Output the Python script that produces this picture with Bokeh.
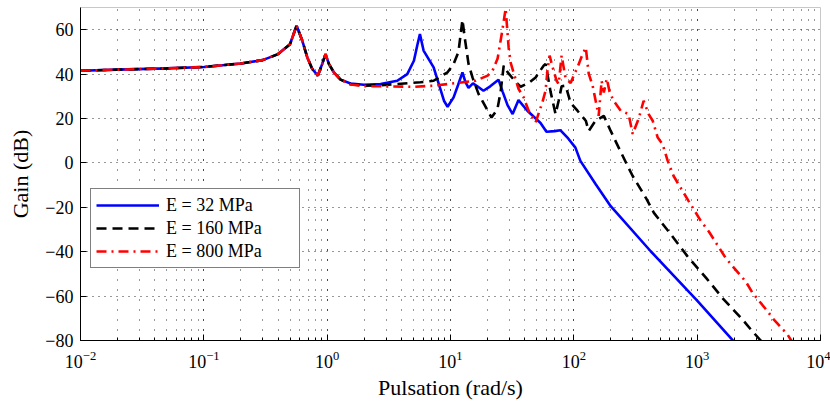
from bokeh.plotting import figure
from bokeh.models import Range1d, FixedTicker, Legend, LegendItem
from bokeh.embed import file_html
from bokeh.resources import INLINE

# ---- data ----
freq_32 = [0.01, 0.02, 0.05, 0.1, 0.2, 0.3, 0.4, 0.5, 0.565, 0.628, 0.69, 0.757, 0.84, 0.912,
           0.97, 1.032, 1.133, 1.284, 1.548, 1.985, 2.71, 3.70, 4.46, 5.05, 5.38, 5.65, 6.05,
           7.3, 8.85, 9.47, 10.6, 11.5, 12.5, 13.2, 14.0, 15.2, 16.5, 18.5, 21.0, 24.5, 26.5,
           29.0, 31.9, 35.6, 42.0, 53.7, 60.0, 70.0, 78.0, 90.0, 103.0, 113.0, 150.0, 199.0,
           420.0, 1000.0, 1930.0, 2100.0]
gain_32 = [41.5, 42.0, 42.6, 43.2, 44.8, 46.3, 49.0, 53.5, 61.8, 55.1, 47.5, 42.3, 39.3, 44.6,
           49.0, 44.6, 40.8, 37.5, 35.8, 35.2, 35.5, 37.0, 40.0, 46.0, 53.0, 58.0, 50.6,
           43.0, 28.0, 25.3, 29.5, 35.0, 40.8, 36.5, 33.8, 35.8, 34.5, 32.5, 34.5, 37.5, 32.0,
           26.0, 22.0, 28.3, 23.5, 18.0, 14.0, 14.3, 14.7, 11.0, 6.9, 0.9, -9.5, -19.5,
           -39.8, -62.0, -79.7, -82.0]

freq_160 = [0.01, 0.02, 0.05, 0.1, 0.2, 0.3, 0.4, 0.5, 0.565, 0.628, 0.69, 0.757, 0.84, 0.912,
            0.97, 1.032, 1.133, 1.284, 1.548, 1.985, 2.71, 5.71, 7.29, 9.46, 10.6, 11.6, 12.5,
            13.0, 14.0, 15.1, 16.9, 18.5, 21.5, 24.0, 25.5, 27.0, 29.1, 33.7, 37.0, 43.0,
            49.0, 56.9, 59.0, 64.8, 71.1, 75.3, 79.6, 85.8, 94.2, 107.0, 125.0, 132.0, 150.0,
            175.0, 199.0, 231.0, 273.0, 300.0, 348.0, 389.0, 446.0, 610.0, 832.0, 1210.0,
            1640.0, 2330.0, 2720.0, 3275.0, 3590.0]
gain_160 = [41.5, 42.0, 42.6, 43.2, 44.8, 46.3, 49.0, 53.5, 61.8, 55.1, 47.5, 42.3, 39.3, 44.6,
            49.0, 44.6, 40.8, 37.5, 35.5, 34.8, 35.0, 36.3, 37.0, 40.8, 44.6, 50.0, 64.5,
            57.0, 44.6, 38.4, 31.0, 27.0, 20.4, 24.2, 32.0, 43.8, 40.8, 36.5, 34.3, 36.0,
            38.5, 43.8, 44.6, 32.0, 22.0, 28.0, 34.5, 34.8, 27.0, 23.5, 19.0, 14.4, 19.0,
            21.2, 14.4, 6.9, -1.4, -5.9, -11.8, -16.3, -22.5, -32.1, -42.0, -52.5,
            -61.5, -70.5, -75.0, -80.0, -82.0]

freq_800 = [0.01, 0.02, 0.05, 0.1, 0.2, 0.3, 0.4, 0.5, 0.565, 0.628, 0.69, 0.757, 0.84, 0.912,
            0.97, 1.032, 1.133, 1.284, 1.548, 1.985, 2.71, 5.05, 7.29, 9.46, 16.0, 20.0, 21.9,
            24.1, 26.3, 28.0, 29.6, 30.7, 32.5, 35.6, 39.2, 43.0, 49.0, 55.5, 59.0, 61.2, 63.6,
            67.3, 72.5, 75.3, 79.6, 85.8, 94.2, 101.0, 107.0, 116.0, 125.0, 132.0, 142.0,
            159.0, 168.0, 175.0, 185.0, 195.0, 210.0, 240.0, 278.0, 300.0, 336.0, 368.0,
            404.0, 436.0, 479.0, 525.0, 577.0, 644.0, 762.0, 853.0, 1067.0, 1239.0, 1702.0,
            1940.0, 2473.0, 2818.0, 3730.0, 4170.0, 5420.0, 5730.0, 6290.0]
gain_800 = [41.5, 42.0, 42.6, 43.2, 44.8, 46.3, 49.0, 53.5, 61.8, 55.1, 47.5, 42.3, 39.3, 44.6,
            49.0, 44.6, 40.8, 37.5, 35.3, 34.6, 34.5, 34.3, 34.8, 35.5, 37.0, 39.3, 41.5,
            47.0, 59.6, 69.5, 52.0, 45.3, 40.6, 33.4, 29.5, 23.5, 18.2, 27.2, 32.5, 42.0, 48.3,
            43.0, 37.0, 35.5, 48.3, 38.0, 36.0, 40.0, 43.0, 48.0, 52.0, 40.2, 34.8,
            21.2, 37.0, 31.7, 37.9, 32.0, 28.0, 23.5, 22.0, 13.0, 20.0, 28.0,
            22.0, 19.0, 11.4, 8.4, 0.9, -5.9, -12.7, -17.2, -26.0, -30.8, -42.8,
            -46.6, -53.4, -58.6, -66.9, -70.5, -77.4, -79.6, -82.0]

labels = ["E = 32 MPa", "E = 160 MPa", "E = 800 MPa"]
y_ticks = [-80, -60, -40, -20, 0, 20, 40, 60]

FONT = "Liberation Serif"

p = figure(width=830, height=402, x_axis_type="log",
           x_range=Range1d(1e-2, 1e4), y_range=Range1d(-80, 70),
           output_backend="svg", toolbar_location=None,
           min_border_left=80, min_border_right=10, min_border_top=7, min_border_bottom=10)
p.outline_line_color = "#c8c8c8"
p.outline_line_width = 1
p.background_fill_color = "white"
p.border_fill_color = "white"

r1 = p.line(freq_32, gain_32, line_color="#0000ff", line_width=2.6)
r2 = p.line(freq_160, gain_160, line_color="#000000", line_width=2.6, line_dash="10 6")
r3 = p.line(freq_800, gain_800, line_color="#ff0000", line_width=2.6, line_dash="10 5 2 5")

# axes
p.yaxis.ticker = FixedTicker(ticks=y_ticks)
for ax in (p.xaxis[0], p.yaxis[0]):
    ax.major_label_text_font = FONT
    ax.major_label_text_font_size = "18px"
    ax.major_label_text_color = "black"
    ax.axis_label_text_font = FONT
    ax.axis_label_text_font_size = "22px"
    ax.axis_label_text_font_style = "normal"
    ax.axis_label_text_color = "black"
    ax.axis_line_color = "black"
    ax.major_tick_in = 6
    ax.major_tick_out = 0
    ax.minor_tick_in = 3
    ax.minor_tick_out = 0
    ax.major_tick_line_color = "black"
p.yaxis.minor_tick_line_color = None
p.xaxis.axis_label = "Pulsation (rad/s)"
p.yaxis.axis_label = "Gain (dB)"
p.xaxis.major_label_standoff = 10
p.yaxis.major_label_standoff = 7
p.xaxis.axis_label_standoff = 4
p.yaxis.axis_label_standoff = 9

# grid
p.xgrid.grid_line_color = "#303030"
p.xgrid.grid_line_dash = "1 9"
p.xgrid.grid_line_width = 1
p.xgrid.minor_grid_line_color = "#303030"
p.xgrid.minor_grid_line_dash = "1 9"
p.xgrid.minor_grid_line_width = 1
p.ygrid.grid_line_color = "#303030"
p.ygrid.grid_line_dash = "1 5"
p.ygrid.grid_line_width = 1

legend = Legend(items=[LegendItem(label=labels[0], renderers=[r1]),
                       LegendItem(label=labels[1], renderers=[r2]),
                       LegendItem(label=labels[2], renderers=[r3])],
                location=(10, 72))
legend.label_text_font = FONT
legend.label_text_font_size = "18px"
legend.label_text_color = "black"
legend.border_line_color = "black"
legend.border_line_width = 1
legend.background_fill_color = "white"
legend.background_fill_alpha = 1.0
legend.padding = 5
legend.margin = 0
legend.spacing = 1
legend.glyph_width = 63
legend.glyph_height = 22
legend.label_height = 22
legend.label_width = 128
legend.label_standoff = 7
p.add_layout(legend, "center")

open("out.html", "w").write(file_html(p, INLINE))
